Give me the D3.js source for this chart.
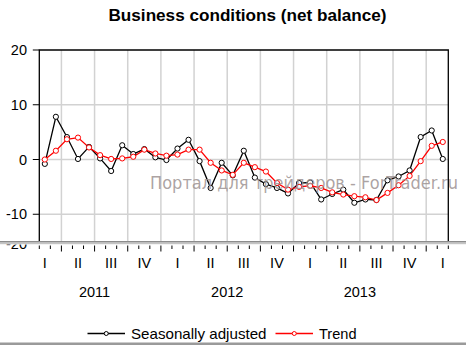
<!DOCTYPE html>
<html><head><meta charset="utf-8">
<script src="https://cdn.jsdelivr.net/npm/d3@7"></script>
<style>body{margin:0;background:#fff}svg{display:block}</style>
</head><body>
<script>
// Data: monthly, Feb 2011 .. Feb 2014
const startMonth = 1; // month index, Jan 2011 = 0
const seasonallyAdjusted = [-0.8,7.8,4.1,0.1,2.3,0.2,-2.1,2.6,1.0,1.9,0.4,-0.1,2.0,3.6,-0.3,-5.2,-0.6,-2.9,1.6,-3.3,-4.5,-5.2,-6.2,-4.3,-4.2,-7.3,-6.3,-5.5,-7.9,-7.3,-7.4,-3.8,-3.1,-2.0,4.1,5.3,0.1];
const trend = [0.0,1.6,3.7,4.0,2.2,0.8,0.1,0.2,0.5,1.8,1.1,0.7,0.9,1.8,1.8,-0.6,-2.0,-2.8,-0.6,-1.4,-2.2,-4.3,-5.5,-5.0,-4.8,-5.2,-6.0,-6.4,-6.7,-6.9,-7.4,-6.1,-4.7,-3.0,-0.3,2.5,3.2];
const yTicks = [20,10,0,-10,-20];
const quarterLabels = ["I","II","III","IV","I","II","III","IV","I","II","III","IV","I"];
const years = ["2011","2012","2013"];
const title = "Business conditions (net balance)";
const seriesNames = ["Seasonally adjusted","Trend"];
const watermark = "Портал для трейдеров - ForTrader.ru";

const W = 466, H = 345;
const pL = 39.3, pR = 448.3, pT = 50, pCut = 241.5;
const x = d3.scaleLinear().domain([1, 38]).range([pL, pR]);
const y = d3.scaleLinear().domain([-20, 20]).range([269, 50]);
const font = "'Liberation Sans', Arial, sans-serif";

const svg = d3.select("body").append("svg").attr("width", W).attr("height", H);
svg.append("rect").attr("width", W).attr("height", H).attr("fill", "#fff");

svg.append("text").attr("x", 247.5).attr("y", 21).attr("text-anchor", "middle")
  .attr("font-family", font).attr("font-weight", "bold").attr("font-size", 16.5)
  .attr("textLength", 278).attr("lengthAdjust", "spacingAndGlyphs").text(title);

const defs = svg.append("defs");
defs.append("clipPath").attr("id", "plotclip").append("rect")
  .attr("x", pL).attr("y", pT).attr("width", pR - pL).attr("height", pCut - pT);
defs.append("clipPath").attr("id", "labclip").append("rect")
  .attr("x", 0).attr("y", 244.5).attr("width", 60).attr("height", 20);

const plot = svg.append("g").attr("clip-path", "url(#plotclip)");
const months = d3.range(1, 39);
plot.selectAll("line.vg").data(months.filter(m => m % 3 === 0)).join("line")
  .attr("x1", d => x(d)).attr("x2", d => x(d)).attr("y1", pT).attr("y2", pCut)
  .attr("stroke", "#d2d2d2").attr("stroke-width", 1.5);
plot.selectAll("line.hg").data([10, 0, -10]).join("line")
  .attr("x1", pL).attr("x2", pR).attr("y1", d => y(d)).attr("y2", d => y(d))
  .attr("stroke", "#d2d2d2").attr("stroke-width", 1.5);

const pts = arr => arr.map((v, i) => [x(startMonth + i + 0.5), y(v)]);
const line = d3.line();
const series = [
  { vals: seasonallyAdjusted, color: "#000" },
  { vals: trend, color: "#ff0000" }
];
series.forEach(s => {
  plot.append("path").attr("d", line(pts(s.vals))).attr("fill", "none")
    .attr("stroke", s.color).attr("stroke-width", 1.3);
});
series.forEach(s => {
  plot.selectAll(null).data(pts(s.vals)).join("circle")
    .attr("cx", d => d[0]).attr("cy", d => d[1]).attr("r", 2.6)
    .attr("fill", "#fff").attr("stroke", s.color).attr("stroke-width", 1);
});

svg.append("text").attr("x", 150).attr("y", 189).attr("font-family", "'DejaVu Sans', sans-serif")
  .attr("font-size", 17).attr("fill", "#9d9393").attr("fill-opacity", 0.85)
  .attr("textLength", 308).attr("lengthAdjust", "spacingAndGlyphs").text(watermark);

svg.append("path").attr("d", `M${pL},${pCut}V${pT}H${pR}V${pCut}`)
  .attr("fill", "none").attr("stroke", "#000").attr("stroke-width", 1.3);

const visTicks = yTicks.filter(v => y(v) < pCut);
svg.selectAll("line.yt").data(visTicks).join("line")
  .attr("x1", pL - 6.5).attr("x2", pL).attr("y1", d => y(d)).attr("y2", d => y(d))
  .attr("stroke", "#000").attr("stroke-width", 1);
svg.selectAll("text.yl").data(visTicks).join("text")
  .attr("x", 27).attr("y", d => y(d) + 5.2).attr("text-anchor", "end")
  .attr("font-family", font).attr("font-size", 14.5).text(d => d);
svg.append("text").attr("clip-path", "url(#labclip)").attr("x", 27).attr("y", 248.5)
  .attr("text-anchor", "end").attr("font-family", font).attr("font-size", 14.5).text(yTicks[4]);

svg.append("rect").attr("x", 0).attr("y", 241).attr("width", W).attr("height", 1.6).attr("fill", "#8c8c8c");
svg.append("rect").attr("x", 0).attr("y", 242.6).attr("width", W).attr("height", 1.6).attr("fill", "#c4c4c4");

svg.selectAll("line.xt").data(months).join("line")
  .attr("x1", d => x(d)).attr("x2", d => x(d)).attr("y1", 245.5)
  .attr("y2", d => d % 3 === 0 ? 251.5 : 249)
  .attr("stroke", "#000").attr("stroke-width", 1);

svg.selectAll("text.q").data(quarterLabels).join("text")
  .attr("x", (d, i) => x(i * 3 + 1.5)).attr("y", 268).attr("text-anchor", "middle")
  .attr("font-family", font).attr("font-size", 14.5).text(d => d);
svg.selectAll("text.yr").data(years).join("text")
  .attr("x", (d, i) => x(i * 12 + 6)).attr("y", 297).attr("text-anchor", "middle")
  .attr("font-family", font).attr("font-size", 14.5).text(d => d);

const leg = [
  { name: seriesNames[0], color: "#000", x0: 87.5, x1: 125, tx: 131, w: 135.5 },
  { name: seriesNames[1], color: "#ff0000", x0: 275.5, x1: 313, tx: 319, w: 37.5 }
];
leg.forEach(l => {
  svg.append("line").attr("x1", l.x0).attr("x2", l.x1).attr("y1", 333.5).attr("y2", 333.5)
    .attr("stroke", l.color).attr("stroke-width", 1.3);
  svg.append("circle").attr("cx", (l.x0 + l.x1) / 2).attr("cy", 333.5).attr("r", 2)
    .attr("fill", "#fff").attr("stroke", l.color).attr("stroke-width", 1);
  svg.append("text").attr("x", l.tx).attr("y", 338.5).attr("font-family", font)
    .attr("font-size", 15).attr("textLength", l.w).attr("lengthAdjust", "spacingAndGlyphs").text(l.name);
});
svg.append("rect").attr("x", 0).attr("y", 342.5).attr("width", W).attr("height", 2.5).attr("fill", "#9a9a9a");
</script>
</body></html>
